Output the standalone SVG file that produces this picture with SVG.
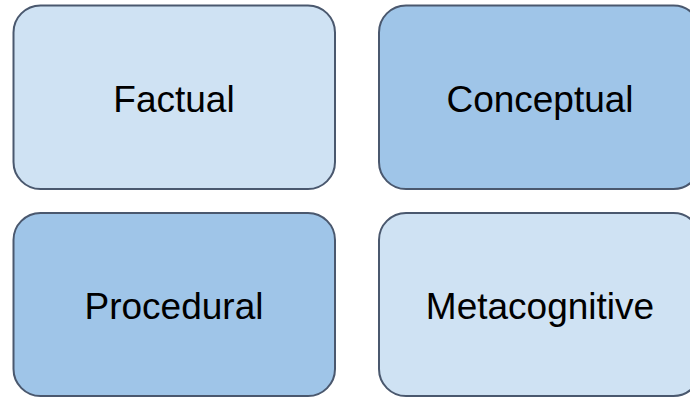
<svg xmlns="http://www.w3.org/2000/svg" width="690" height="398" viewBox="0 0 690 398">
  <style>
    .box { stroke: #4a586e; stroke-width: 2; }
    .light { fill: #cfe2f3; }
    .dark { fill: #9fc5e8; }
    .label { font-family: "Liberation Sans", Arial, sans-serif; font-size: 37px; fill: #000; text-anchor: middle; }
  </style>
  <rect width="690" height="398" fill="#ffffff"/>
  <g id="factual">
    <rect class="box light" x="13.5" y="5.5" width="321.5" height="183.5" rx="27" ry="27"/>
    <text class="label" x="174" y="111.5">Factual</text>
  </g>
  <g id="conceptual">
    <rect class="box dark" x="379" y="5.5" width="321.5" height="183.5" rx="27" ry="27"/>
    <text class="label" x="540" y="111.5">Conceptual</text>
  </g>
  <g id="procedural">
    <rect class="box dark" x="13.5" y="213" width="321.5" height="183" rx="27" ry="27"/>
    <text class="label" x="174" y="318.5">Procedural</text>
  </g>
  <g id="metacognitive">
    <rect class="box light" x="379" y="213" width="321.5" height="183" rx="27" ry="27"/>
    <text class="label" x="540" y="318.5">Metacognitive</text>
  </g>
  <g id="connectors"/>
</svg>
